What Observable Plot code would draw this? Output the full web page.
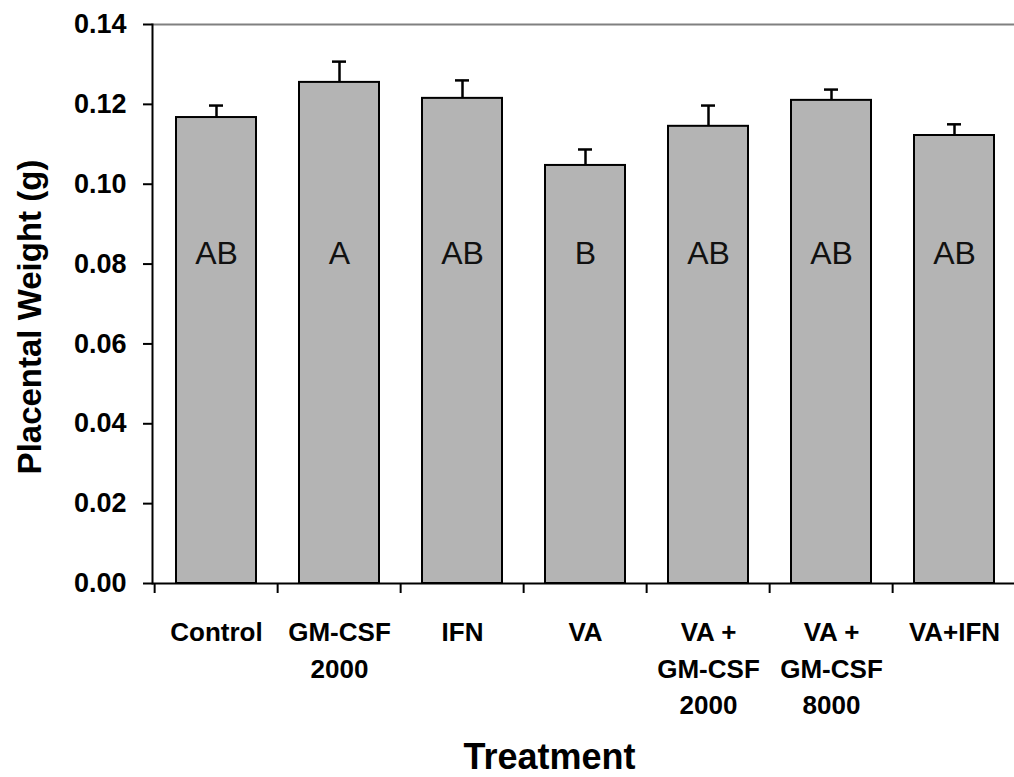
<!DOCTYPE html>
<html>
<head>
<meta charset="utf-8">
<script src="https://cdn.jsdelivr.net/npm/d3@7"></script>
<script src="https://cdn.jsdelivr.net/npm/@observablehq/plot@0.6"></script>
<style>
  html, body { margin: 0; padding: 0; background: #fff; overflow: hidden; }
  #chart svg { font-family: "Liberation Sans", Arial, sans-serif; }
</style>
</head>
<body>
<div id="chart"></div>
<script>
const categories = ["Control", "GM-CSF\n2000", "IFN", "VA", "VA +\nGM-CSF\n2000", "VA +\nGM-CSF\n8000", "VA+IFN"];
const means = [0.1167, 0.1255, 0.1215, 0.1047, 0.1145, 0.1210, 0.1122];
const errors = [0.0030, 0.0052, 0.0045, 0.0040, 0.0052, 0.0027, 0.0028];
const letters = ["AB", "A", "AB", "B", "AB", "AB", "AB"];
const yTicks = [0, 0.02, 0.04, 0.06, 0.08, 0.10, 0.12, 0.14];
const letterY = 0.0826;

const data = categories.map((c, i) => ({cat: c, mean: means[i], err: errors[i], letter: letters[i]}));

const width = 1014, height = 777;
const marginLeft = 152, marginRight = -4, marginTop = 24, marginBottom = 194;
const step = (width - marginLeft - marginRight) / categories.length;

const plot = Plot.plot({
  width, height, marginLeft, marginRight, marginTop, marginBottom,
  style: {fontFamily: '"Liberation Sans", Arial, sans-serif', color: "#000", background: "#fff", overflow: "hidden"},
  x: {domain: categories, paddingInner: 0.35, paddingOuter: 0.175},
  y: {domain: [0, 0.14]},
  marks: [
    Plot.ruleY([0.14], {stroke: "#808080", strokeWidth: 2}),
    Plot.barY(data, {x: "cat", y: "mean", fill: "#b4b4b4", stroke: "#000", strokeWidth: 2}),
    Plot.ruleX(data, {x: "cat", y1: "mean", y2: d => d.mean + d.err, stroke: "#000", strokeWidth: 2.5}),
    Plot.tickY(data, {x: "cat", y: d => d.mean + d.err, stroke: "#000", strokeWidth: 2.5, insetLeft: 33, insetRight: 33}),
    Plot.text(data, {x: "cat", y: () => letterY, text: "letter", fontSize: 32, fill: "#111", lineAnchor: "middle"}),
    Plot.ruleX(categories, {x: d => d, dx: -step / 2, y1: 0, y2: -0.0025, stroke: "#000", strokeWidth: 2}),
    Plot.ruleY([0], {stroke: "#000", strokeWidth: 2}),
    Plot.frame({anchor: "left", stroke: "#000", strokeWidth: 2}),
    Plot.axisY({ticks: yTicks, tickFormat: d3.format(".2f"), tickSize: 9, tickPadding: 17, fontSize: 27, fontWeight: "bold", strokeWidth: 2, label: null}),
    Plot.axisX({tickSize: 0, tickPadding: 32, fontSize: 26, fontWeight: "bold", lineHeight: 1.4, label: null, lineAnchor: "top"}),
    Plot.text(["Treatment"], {frameAnchor: "bottom", dx: -36, dy: 174, fontSize: 36, fontWeight: "bold", lineAnchor: "middle", textAnchor: "middle", fill: "#000"}),
    Plot.text(["Placental Weight (g)"], {frameAnchor: "left", dx: -122, dy: 13, rotate: -90, fontSize: 33, fontWeight: "bold", lineAnchor: "middle", textAnchor: "middle", fill: "#000"})
  ]
});
document.getElementById("chart").appendChild(plot);
</script>
</body>
</html>
